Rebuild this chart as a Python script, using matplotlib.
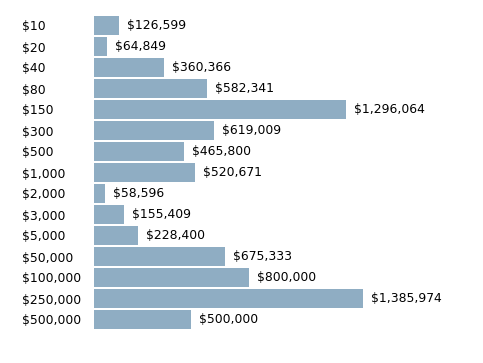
import matplotlib.pyplot as plt

categories = ['$10', '$20', '$40', '$80', '$150', '$300', '$500', '$1,000', '$2,000',
              '$3,000', '$5,000', '$50,000', '$100,000', '$250,000', '$500,000']
amounts = [126599, 64849, 360366, 582341, 1296064, 619009, 465800, 520671, 58596,
           155409, 228400, 675333, 800000, 1385974, 500000]

bar_color = '#8FADC3'

fig = plt.figure(figsize=(4.83, 3.63), dpi=100)
# axes placed in pixels: left 94, width 386, top 15, bottom 330
ax = fig.add_axes([94 / 483, 33 / 363, 386 / 483, 315 / 363])

y = range(len(categories))
ax.barh(y, amounts, height=0.88, color=bar_color)

ax.set_xlim(0, max(amounts) * 386 / 269)
ax.set_ylim(len(categories) - 0.5, -0.5)

for i, v in enumerate(amounts):
    ax.annotate(f'${v:,}', (v, i), xytext=(8, 0), textcoords='offset pixels',
                va='center', ha='left', fontsize=8.9, color='#000000')

ax.set_yticks(list(y))
ax.set_yticklabels(categories, fontsize=8.9, color='#000000', ha='left')
ax.tick_params(axis='y', length=0, pad=72 * 72 / 100)
ax.set_xticks([])
for s in ax.spines.values():
    s.set_visible(False)

fig.savefig('out.png', dpi=100)
